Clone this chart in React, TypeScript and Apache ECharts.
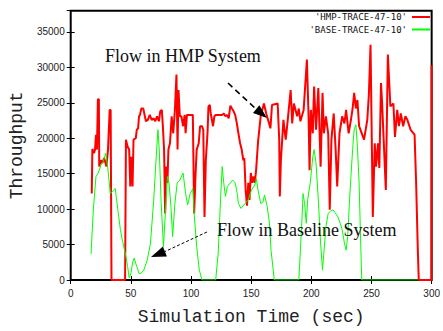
import React, { useEffect, useRef } from "react";
import * as echarts from "echarts";

const hmpName = "'HMP-TRACE-47-10'";
const baseName = "'BASE-TRACE-47-10'";

const hmpTrace: [number, number][] = [
  [17.5, 12200], [18.0, 18500], [19.4, 17900], [20.2, 18400], [21.0, 20500], [21.8, 18400], [22.6, 25500], [23.4, 25500],
  [23.7, 16000], [25.1, 16900], [26.2, 16500], [27.8, 17200], [29.7, 16000], [31.0, 18400], [32.4, 24000], [33.2, 24000],
  [33.9, 0], [45.2, 0], [45.9, 19800], [47.3, 18800], [48.6, 18400], [49.5, 13200], [50.5, 17400], [51.4, 13200],
  [52.2, 19800], [54.1, 20000], [54.9, 21200], [56.0, 21400], [56.8, 23100], [57.6, 23300], [58.7, 24200], [60.3, 24200],
  [61.4, 23300], [62.5, 22400], [64.1, 22600], [65.7, 23300], [67.3, 22600], [69.0, 22800], [70.3, 22400], [71.7, 23100],
  [73.3, 22400], [74.4, 23800], [75.7, 24000], [76.6, 21700], [77.6, 18400], [78.5, 9400], [79.3, 16000], [80.4, 13700],
  [81.2, 18400], [82.5, 19300], [83.9, 23100], [85.2, 20700], [86.6, 24000], [87.9, 29000], [88.8, 18400], [89.6, 26800],
  [90.7, 23100], [92.0, 23100], [93.4, 21700], [94.7, 23300], [95.5, 20700], [96.6, 23300], [101.5, 23300], [102.6, 9400],
  [103.7, 14600], [104.7, 18400], [106.4, 19300], [107.5, 21700], [109.1, 21700], [110.2, 21200], [111.2, 8900], [112.3, 16900],
  [113.7, 20700], [114.5, 24500], [115.6, 24700], [116.4, 23500], [118.3, 21700], [119.4, 23100], [120.5, 23300], [125.9, 23300],
  [127.2, 23500], [128.6, 23100], [129.9, 23300], [131.3, 22800], [132.7, 24600], [134.0, 24200], [135.4, 23800], [136.7, 23300],
  [138.1, 22100], [139.4, 20700], [140.8, 19300], [142.1, 18400], [143.5, 16900], [144.3, 17200], [145.4, 12700], [146.5, 10500],
  [147.6, 13700], [148.6, 11300], [149.7, 15100], [150.8, 13700], [151.9, 14600], [153.0, 13700], [154.1, 15500], [155.7, 19500],
  [157.9, 23100], [160.6, 24900], [162.5, 23500], [166.0, 21400], [167.3, 24700], [172.0, 24900], [173.3, 19800], [173.8, 11800],
  [174.7, 16900], [176.8, 22600], [178.7, 19800], [180.1, 22100], [182.8, 26800], [184.1, 22100], [185.5, 24900], [188.2, 23100],
  [189.6, 24200], [190.9, 22400], [193.6, 24000], [196.3, 31100], [197.7, 23100], [198.5, 15500], [199.6, 24000], [201.2, 20700],
  [202.3, 27300], [203.9, 21200], [205.8, 27100], [207.7, 16000], [209.3, 26400], [210.4, 20700], [212.1, 23100], [214.0, 20700],
  [215.3, 9900], [216.7, 19800], [218.6, 23500], [220.2, 18400], [221.5, 13200], [223.4, 20700], [225.6, 23100], [227.5, 22100],
  [228.9, 24000], [231.0, 20700], [232.9, 22600], [234.3, 24200], [235.6, 26400], [237.0, 24200], [238.3, 25400], [239.7, 21700],
  [243.8, 19800], [246.5, 22600], [247.8, 26100], [249.2, 33200], [251.1, 8900], [252.7, 19300], [253.8, 16000], [255.4, 19300],
  [256.5, 15800], [257.9, 27800], [258.7, 25400], [261.9, 12700], [263.6, 31800], [265.7, 24500], [268.2, 24900], [269.5, 20200],
  [271.4, 24000], [272.8, 21700], [274.4, 23500], [276.3, 21700], [278.2, 23100], [279.8, 22600], [282.5, 21200], [285.8, 20500],
  [287.1, 13700], [288.5, 4200], [289.3, 0], [299.8, 0], [300, 30300],
];

const baseTrace: [number, number][] = [
  [16.9, 3700], [18.8, 9900], [21.0, 14600], [22.9, 15100], [25.1, 16200], [27.0, 16700], [29.1, 17900], [31.0, 15500],
  [32.9, 12200], [34.6, 12500], [37.0, 12900], [39.2, 9900], [41.3, 7100], [43.2, 5400], [45.9, 3300], [47.3, 1900],
  [48.6, 300], [50.0, 900], [51.4, 2400], [52.7, 3100], [54.9, 1900], [56.8, 900], [58.7, 1000], [60.8, 1400],
  [63.6, 2800], [66.3, 5200], [69.0, 11300], [70.9, 16900], [72.5, 21200], [73.6, 18400], [75.2, 10800], [77.1, 4700],
  [79.3, 11300], [80.4, 14600], [81.7, 13700], [83.3, 10400], [84.7, 6100], [86.6, 10800], [88.5, 13700], [90.7, 14100],
  [93.4, 15100], [95.5, 12200], [97.2, 10600], [99.3, 12200], [101.5, 12900], [102.8, 8900], [104.7, 4700], [106.9, 1400],
  [109.1, 0], [120.5, 0], [122.6, 3800], [124.5, 11300], [125.9, 16000], [127.2, 13700], [128.6, 11800], [130.2, 13200],
  [132.7, 13700], [134.6, 14100], [136.7, 13700], [138.4, 12200], [139.4, 10800], [141.6, 10100], [144.9, 10800], [147.6, 11300],
  [150.3, 12700], [153.0, 13400], [154.3, 14300], [155.7, 12700], [157.9, 10800], [159.8, 11000], [161.1, 12000], [163.3, 10400],
  [165.2, 8000], [166.5, 4200], [169.2, 0], [189.6, 0], [190.9, 4200], [192.3, 8900], [193.1, 12200], [194.4, 10800],
  [195.8, 8000], [196.9, 11300], [199.1, 13700], [201.2, 17400], [202.3, 18400], [203.9, 16500], [205.8, 11300], [207.7, 5200],
  [209.3, 1400], [210.4, 3800], [212.1, 7500], [214.0, 9400], [215.9, 9700], [218.0, 9900], [220.2, 9400], [222.1, 8900],
  [224.0, 8000], [225.6, 7100], [227.5, 5200], [228.9, 4200], [230.2, 6100], [231.6, 10800], [232.9, 14600], [234.3, 18400],
  [235.6, 21200], [237.0, 21900], [238.3, 18800], [239.7, 13700], [241.1, 4700], [241.9, 0], [288.5, 0],
];

const xMin = 0;
const xMax = 300;
const xStep = 50;
const yMin = 0;
const yMax = 38000;
const yStep = 5000;

const hmpLabel = "Flow in HMP System";
const baseLabel = "Flow in Baseline System";

export default function App() {
  const ref = useRef<HTMLDivElement>(null);
  useEffect(() => {
    if (!ref.current) return;
    const chart = echarts.init(ref.current, null, { renderer: "svg" });
    const axisLine = { show: false };
    const axisTick = { show: true, inside: true, length: 4, lineStyle: { color: "#000", width: 1 } };
    const labelFont = { color: "#222", fontFamily: "Liberation Sans", fontSize: 10 };
    const nameFont = { color: "#222", fontFamily: "Liberation Mono", fontSize: 18 };
    chart.setOption({
      animation: false,
      backgroundColor: "#fff",
      grid: {
        left: 68.5, right: 5.5, top: 10.7, bottom: 51, containLabel: false,
        show: true, borderColor: "#000", borderWidth: 2, backgroundColor: "transparent",
      },
      legend: {
        right: 13,
        top: 12,
        orient: "vertical",
        align: "right",
        icon: "rect",
        itemWidth: 18,
        itemHeight: 2,
        itemGap: 2.5,
        padding: 0,
        textStyle: { fontFamily: "DejaVu Sans Mono", fontSize: 9, lineHeight: 10, color: "#111" },
        data: [hmpName, baseName],
      },
      xAxis: [
        {
          type: "value", min: xMin, max: xMax, interval: xStep, position: "bottom",
          axisLine, axisTick, splitLine: { show: false },
          axisLabel: { ...labelFont, margin: 8 },
          name: "Simulation Time (sec)", nameLocation: "middle", nameGap: 28, nameTextStyle: nameFont,
        },
        {
          type: "value", min: xMin, max: xMax, interval: xStep, position: "top",
          axisLine, axisTick, splitLine: { show: false }, axisLabel: { show: false },
        },
      ],
      yAxis: [
        {
          type: "value", min: yMin, max: yMax, interval: yStep, position: "left",
          axisLine, axisTick, splitLine: { show: false },
          axisLabel: { ...labelFont, margin: 6, showMaxLabel: false, formatter: (v: number) => (v % yStep === 0 ? String(v) : "") },
          name: "Throughput", nameLocation: "middle", nameGap: 42, nameRotate: 90, nameTextStyle: nameFont,
        },
        {
          type: "value", min: yMin, max: yMax, interval: yStep, position: "right",
          axisLine, axisTick, splitLine: { show: false }, axisLabel: { show: false },
        },
      ],
      series: [
        {
          name: hmpName, type: "line", data: hmpTrace, xAxisIndex: 0, yAxisIndex: 0,
          symbol: "none", showSymbol: false, color: "#ff0000", clip: false,
          lineStyle: { color: "#ff0000", width: 2 }, z: 5,
        },
        {
          name: baseName, type: "line", data: baseTrace, xAxisIndex: 0, yAxisIndex: 0,
          symbol: "none", showSymbol: false, color: "#00ff00",
          lineStyle: { color: "#00ff00", width: 1 }, z: 6,
        },
      ],
      graphic: [
        {
          type: "text", x: 105, y: 56, z: 10,
          style: { text: hmpLabel, font: '18px "Liberation Serif"', fill: "#111", verticalAlign: "middle" },
        },
        {
          type: "text", x: 217, y: 230, z: 10,
          style: { text: baseLabel, font: '18px "Liberation Serif"', fill: "#111", verticalAlign: "middle" },
        },
        {
          type: "line", z: 10,
          shape: { x1: 228, y1: 83, x2: 256, y2: 109 },
          style: { stroke: "#000", lineWidth: 1.6, lineDash: [6, 4] },
        },
        {
          type: "polygon", z: 10,
          shape: { points: [[267, 118], [253, 112.9], [259.4, 105.2]] },
          style: { fill: "#000" },
        },
        {
          type: "line", z: 10,
          shape: { x1: 207, y1: 232, x2: 165, y2: 251.5 },
          style: { stroke: "#000", lineWidth: 1, lineDash: [3, 2] },
        },
        {
          type: "polygon", z: 10,
          shape: { points: [[151, 257], [162.9, 246.4], [166.9, 256.6]] },
          style: { fill: "#000" },
        },
      ],
    });
    return () => chart.dispose();
  }, []);
  return (
    <div
      ref={ref}
      style={{ position: "absolute", left: 0, top: 0, width: 443, height: 331, background: "#fff" }}
    />
  );
}
